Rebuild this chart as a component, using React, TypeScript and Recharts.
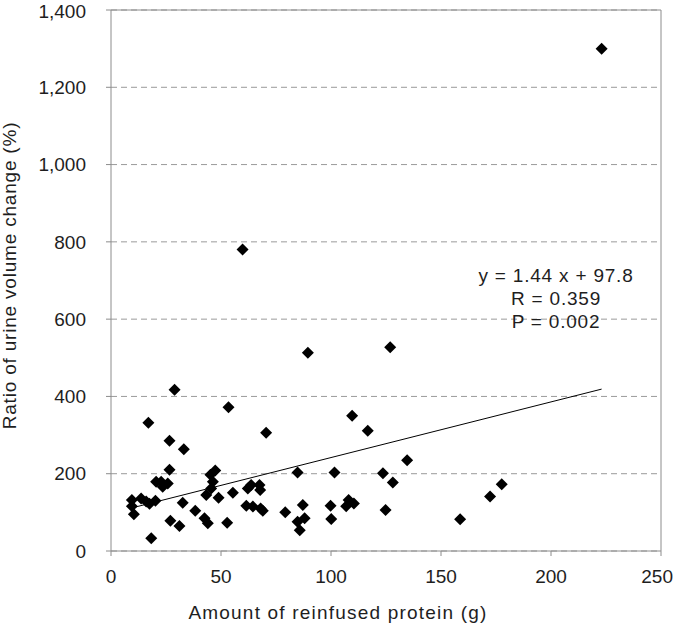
import React from 'react';
import {
    ScatterChart, Scatter, XAxis, YAxis, CartesianGrid, ReferenceLine,
} from 'recharts';

// reinfused protein (g) and urine volume change ratio (%)
const proteinG = [
    28.9, 53.4, 17.0, 70.5, 26.6, 33.1, 26.6, 47.4, 45.2, 20.5,
    22.8, 25.8, 23.5, 46.3, 45.5, 43.3, 48.9, 55.4, 62.2, 63.7,
    67.5, 67.8, 9.5, 9.5, 13.7, 16.0, 17.5, 20.2, 10.4, 32.6,
    38.3, 42.5, 44.0, 27.0, 31.1, 52.8, 18.3, 61.5, 64.5, 68.0,
    69.0, 79.2, 84.8, 84.8, 85.8, 89.5, 126.9, 109.6, 116.7, 134.6,
    101.6, 123.6, 128.1, 87.2, 88.0, 99.8, 100.1, 106.9, 108.0, 110.4,
    124.8, 158.7, 172.3, 177.6, 223.0, 59.8,
];
const urineRatio = [
    417, 372, 332, 306, 285, 263, 210, 208, 197, 179,
    179, 175, 166, 179, 162, 145, 138, 151, 162, 171,
    171, 158, 132, 116, 136, 128, 122, 130, 95, 125,
    104, 85, 72, 78, 65, 73, 33, 117, 115, 110,
    104, 100, 203, 76, 54, 513, 527, 350, 311, 235,
    203, 201, 177, 119, 85, 117, 83, 116, 132, 123,
    106, 82, 141, 173, 1300, 780,
];

const xTicks = [0, 50, 100, 150, 200, 250];
const yTicks = [0, 200, 400, 600, 800, 1000, 1200, 1400];

// regression printed on the chart
const slope = 1.44;
const intercept = 97.8;
const statLines = ['y = 1.44 x + 97.8', 'R = 0.359', 'P = 0.002'];

const points = proteinG.map((x, i) => ({ x, y: urineRatio[i] }));
const xMin = Math.min(...proteinG);
const xMax = Math.max(...proteinG);
const trend = [
    { x: xMin, y: slope * xMin + intercept },
    { x: xMax, y: slope * xMax + intercept },
];

const FONT = '"Liberation Sans", Arial, sans-serif';
const AXIS = '#8c8c8c';
const TEXT = '#1e1e1e';

const Diamond = ({ cx, cy }: any) => {
    const r = 6;
    return (
        <polygon
            points={`${cx},${cy - r} ${cx + r},${cy} ${cx},${cy + r} ${cx - r},${cy}`}
            fill="#000"
        />
    );
};

// last tick sits on the right edge, so pull it in like the original does
const XTick = ({ x, y, payload }: any) => {
    const last = payload.value === xTicks[xTicks.length - 1];
    return (
        <text
            x={last ? Number(x) + 12 : Number(x)}
            y={Number(y)}
            dy="0.71em"
            textAnchor={last ? 'end' : 'middle'}
            fontSize={19}
            fill={TEXT}
            fontFamily={FONT}
        >
            {payload.value}
        </text>
    );
};

const YLabel = ({ viewBox }: any) => {
    const cy = viewBox.y + viewBox.height / 2 - 5;
    return (
        <text
            x={0}
            y={0}
            transform={`translate(16, ${cy}) rotate(-90)`}
            textAnchor="middle"
            fontSize={19}
            letterSpacing={0.8}
            fill={TEXT}
            fontFamily={FONT}
        >
            Ratio of urine volume change (%)
        </text>
    );
};

const XLabel = ({ viewBox }: any) => (
    <text
        x={viewBox.x + viewBox.width / 2 - 48}
        y={619}
        textAnchor="middle"
        fontSize={19}
        letterSpacing={1.2}
        fill={TEXT}
        fontFamily={FONT}
    >
        Amount of reinfused protein (g)
    </text>
);

export default function App() {
    return (
        <div style={{ position: 'absolute', left: 0, top: 0, width: 675, height: 625, background: '#fff', fontFamily: FONT }}>
            <ScatterChart width={675} height={625} margin={{ top: 10, right: 14, bottom: 0, left: 0 }}>
                <CartesianGrid vertical={false} stroke="#9a9a9a" strokeDasharray="6 4" />
                <XAxis
                    type="number"
                    dataKey="x"
                    domain={[0, 250]}
                    ticks={xTicks}
                    height={74}
                    stroke={AXIS}
                    tickSize={5}
                    tickMargin={14}
                    tick={<XTick />}
                    label={<XLabel />}
                />
                <YAxis
                    type="number"
                    dataKey="y"
                    domain={[0, 1400]}
                    ticks={yTicks}
                    width={111}
                    stroke={AXIS}
                    tickSize={5}
                    tickMargin={20}
                    tickFormatter={(v: number) => v.toLocaleString('en-US')}
                    tick={{ fill: TEXT, fontSize: 19, fontFamily: FONT }}
                    label={<YLabel />}
                />
                <ReferenceLine y={1400} stroke={AXIS} />
                <ReferenceLine x={250} stroke={AXIS} />
                <Scatter data={trend} line={{ stroke: '#000', strokeWidth: 1 }} shape={() => null} isAnimationActive={false} />
                <Scatter data={points} shape={<Diamond />} isAnimationActive={false} />
            </ScatterChart>
            <div style={{ position: 'absolute', left: 456, top: 264, width: 200, textAlign: 'center', fontSize: 19, letterSpacing: 0.8, lineHeight: '23px', color: TEXT }}>
                {statLines.map(s => <div key={s}>{s}</div>)}
            </div>
        </div>
    );
}
